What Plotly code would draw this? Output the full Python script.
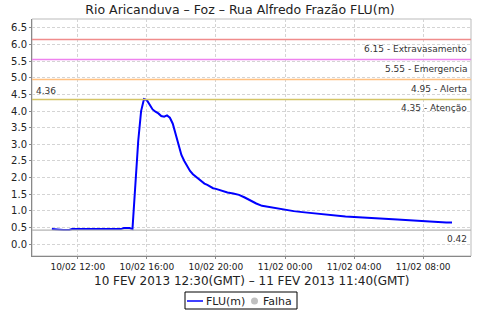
import plotly.graph_objects as go
import pandas as pd

# Data (local time, GMT-2)
times = [
    "2013-02-10 10:30", "2013-02-10 10:40", "2013-02-10 10:50", "2013-02-10 11:00",
    "2013-02-10 11:10", "2013-02-10 11:20", "2013-02-10 11:30", "2013-02-10 11:40",
    "2013-02-10 12:00", "2013-02-10 12:30", "2013-02-10 13:00", "2013-02-10 13:30",
    "2013-02-10 14:00", "2013-02-10 14:30", "2013-02-10 14:40", "2013-02-10 14:50",
    "2013-02-10 15:00", "2013-02-10 15:10", "2013-02-10 15:20", "2013-02-10 15:30",
    "2013-02-10 15:40", "2013-02-10 15:50", "2013-02-10 16:00", "2013-02-10 16:10",
    "2013-02-10 16:20", "2013-02-10 16:30", "2013-02-10 16:40", "2013-02-10 16:50",
    "2013-02-10 17:00", "2013-02-10 17:10", "2013-02-10 17:20", "2013-02-10 17:30",
    "2013-02-10 17:40", "2013-02-10 17:50", "2013-02-10 18:00", "2013-02-10 18:10",
    "2013-02-10 18:20", "2013-02-10 18:30", "2013-02-10 18:40", "2013-02-10 18:50",
    "2013-02-10 19:00", "2013-02-10 19:10", "2013-02-10 19:20", "2013-02-10 19:30",
    "2013-02-10 19:40", "2013-02-10 19:50", "2013-02-10 20:00", "2013-02-10 20:10",
    "2013-02-10 20:20", "2013-02-10 20:30", "2013-02-10 20:40", "2013-02-10 21:00",
    "2013-02-10 21:20", "2013-02-10 21:40", "2013-02-10 22:00", "2013-02-10 22:20",
    "2013-02-10 22:40", "2013-02-10 23:00", "2013-02-10 23:30", "2013-02-11 00:00",
    "2013-02-11 00:30", "2013-02-11 01:00", "2013-02-11 01:30", "2013-02-11 02:00",
    "2013-02-11 02:30", "2013-02-11 03:00", "2013-02-11 03:30", "2013-02-11 04:00",
    "2013-02-11 04:30", "2013-02-11 05:00", "2013-02-11 05:30", "2013-02-11 06:00",
    "2013-02-11 06:30", "2013-02-11 07:00", "2013-02-11 07:30", "2013-02-11 08:00",
    "2013-02-11 08:30", "2013-02-11 09:00", "2013-02-11 09:20", "2013-02-11 09:40",
]
flu = [
    0.45, 0.45, 0.45, 0.43,
    0.42, 0.42, 0.42, 0.45,
    0.45, 0.45, 0.45, 0.45,
    0.45, 0.45, 0.48, 0.48,
    0.48, 0.45, 1.70, 3.10,
    4.00, 4.36, 4.33, 4.20,
    4.05, 3.98, 3.93, 3.85,
    3.83, 3.87, 3.80, 3.62,
    3.30, 2.92, 2.68, 2.50,
    2.33, 2.20, 2.10, 2.03,
    1.96, 1.90, 1.82, 1.78,
    1.73, 1.68, 1.66, 1.63,
    1.62, 1.57, 1.55, 1.52,
    1.48, 1.40, 1.30, 1.22,
    1.15, 1.12, 1.07, 1.03,
    0.99, 0.96, 0.93, 0.91,
    0.88, 0.85, 0.83, 0.81,
    0.79, 0.77, 0.76, 0.75,
    0.74, 0.72, 0.71, 0.70,
    0.68, 0.66, 0.65, 0.65,
]

thresholds = [6.15, 5.55, 4.95, 4.35]
threshold_names = ["Extravasamento", "Emergencia", "Alerta", "Atenção"]
threshold_colors = ["#f08c8c", "#ee82ee", "#ffc080", "#d4c464"]

title = "Rio Aricanduva – Foz – Rua Alfredo Frazão FLU(m)"
xtitle = "10 FEV 2013 12:30(GMT) – 11 FEV 2013 11:40(GMT)"
legend_names = ["FLU(m)", "Falha"]

FONT = "DejaVu Sans"
W, H = 480, 320
ML, MR, MT, MB = 32, 9, 19, 64
PW, PH = W - ML - MR, H - MT - MB


def px(xp):
    return (xp - ML) / PW


def py(yp):
    return (H - MB - yp) / PH


x = pd.to_datetime(times)
vmax = max(flu)
vmin = min(flu)

fig = go.Figure()
fig.add_trace(go.Scatter(x=x, y=flu, mode="lines", name=legend_names[0], showlegend=False,
                         line=dict(color="#0000ff", width=2)))

for v, n, c in zip(thresholds, threshold_names, threshold_colors):
    fig.add_shape(type="line", xref="paper", x0=0, x1=1, yref="y", y0=v, y1=v,
                  line=dict(color=c, width=1.5), layer="above")
    fig.add_annotation(xref="paper", x=0.995, yref="y", y=v, text=f"{v:.2f} - {n}",
                       showarrow=False, xanchor="right", yanchor="top", yshift=-2,
                       font=dict(family=FONT, size=9, color="#333333"))

# min line and labels
fig.add_shape(type="line", xref="paper", x0=0, x1=1, yref="y", y0=vmin, y1=vmin,
              line=dict(color="#b4b4b4", width=1.2), layer="above")
fig.add_annotation(xref="paper", x=0.995, yref="y", y=vmin, text=f"{vmin:.2f}",
                   showarrow=False, xanchor="right", yanchor="top", yshift=-2,
                   font=dict(family=FONT, size=9, color="#333333"))
fig.add_annotation(xref="paper", x=0.005, yref="y", y=vmax, text=f"{vmax:.2f}",
                   showarrow=False, xanchor="left", yanchor="bottom", yshift=1,
                   font=dict(family=FONT, size=9, color="#333333"))

# x-axis caption
fig.add_annotation(xref="paper", x=0.5, yref="paper", y=py(281), text=xtitle,
                   showarrow=False, xanchor="center", yanchor="middle",
                   font=dict(family=FONT, size=12, color="#222222"))

# legend (drawn as a compact boxed key)
fig.add_shape(type="rect", xref="paper", yref="paper", x0=px(185), x1=px(297),
              y0=py(309), y1=py(292), line=dict(color="#000000", width=1),
              fillcolor="white")
fig.add_shape(type="line", xref="paper", yref="paper", x0=px(187), x1=px(203),
              y0=py(301), y1=py(301), line=dict(color="#0000ff", width=1.5))
fig.add_annotation(xref="paper", x=px(204), yref="paper", y=py(301), text=legend_names[0],
                   showarrow=False, xanchor="left", yanchor="middle",
                   font=dict(family=FONT, size=11, color="#222222"))
fig.add_shape(type="circle", xref="paper", yref="paper", x0=px(251), x1=px(258),
              y0=py(304.5), y1=py(297.5), line=dict(color="#c0c0c0", width=0),
              fillcolor="#c0c0c0")
fig.add_annotation(xref="paper", x=px(261), yref="paper", y=py(301), text=legend_names[1],
                   showarrow=False, xanchor="left", yanchor="middle",
                   font=dict(family=FONT, size=11, color="#222222"))

fig.update_layout(
    width=W, height=H,
    margin=dict(l=ML, r=MR, t=MT, b=MB, autoexpand=False),
    paper_bgcolor="white", plot_bgcolor="white",
    font=dict(family=FONT, size=10, color="#222222"),
    title=dict(text=title, x=0.5, xanchor="center", y=0.985, yanchor="top",
               font=dict(family=FONT, size=12.5, color="#222222")),
    showlegend=False,
)

fig.update_xaxes(
    range=[pd.Timestamp("2013-02-10 09:21"), pd.Timestamp("2013-02-11 10:46")],
    tickformat="%d/%m %H:%M", dtick=4 * 3600 * 1000,
    tick0=pd.Timestamp("2013-02-10 00:00"),
    tickfont=dict(family=FONT, size=9, color="#222222"),
    showgrid=True, gridcolor="#d4d4d4", griddash="3px,2px", gridwidth=1,
    showline=True, linecolor="#888888", linewidth=1, mirror=False,
    ticks="outside", ticklen=2, tickcolor="#888888",
    zeroline=False, automargin=False,
)
fig.update_yaxes(
    range=[-0.36, 6.77], dtick=0.5, tick0=0, tickformat=".1f",
    tickfont=dict(family=FONT, size=10, color="#222222"),
    showgrid=True, gridcolor="#d4d4d4", griddash="3px,2px", gridwidth=1,
    showline=True, linecolor="#888888", linewidth=1,
    ticks="outside", ticklen=2, tickcolor="#888888",
    zeroline=False, automargin=False,
)
# light frame top/right
fig.add_shape(type="rect", xref="paper", yref="paper", x0=0, x1=1, y0=0, y1=1,
              line=dict(color="#bbbbbb", width=1), layer="below")

fig.write_html("out.html")
